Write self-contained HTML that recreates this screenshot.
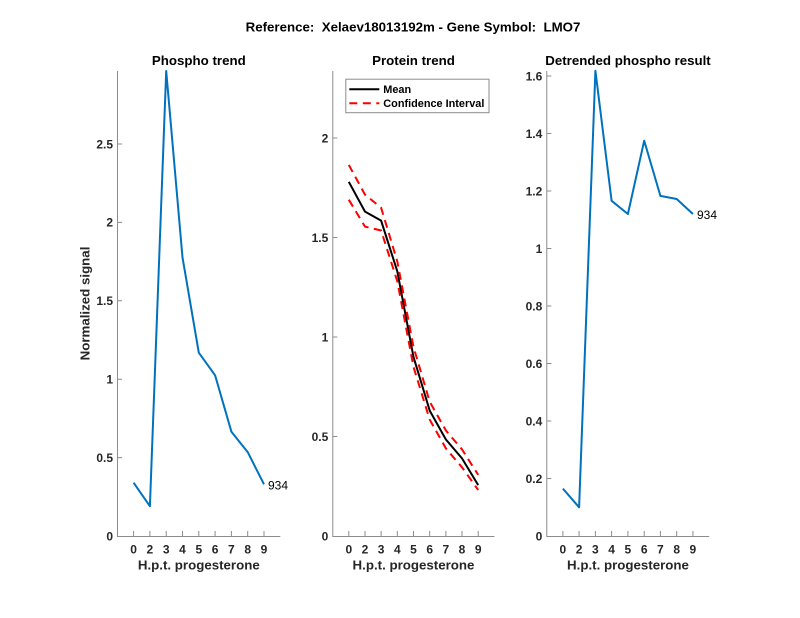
<!DOCTYPE html>
<html><head><meta charset="utf-8"><style>
html,body{margin:0;padding:0;background:#fff;}
svg{display:block;}
text{font-family:"Liberation Sans",Arial,sans-serif;white-space:pre;}
.t{font-size:13.3px;font-weight:bold;fill:#000;}
.tk{font-size:12px;font-weight:bold;fill:#262626;}
.lb{font-size:13.3px;font-weight:bold;fill:#262626;}
.lg{font-size:10.9px;font-weight:bold;fill:#000;}
.ax{stroke:#8c8c8c;stroke-width:1;fill:none;}
</style></head><body>
<svg width="800" height="618" viewBox="0 0 800 618" xmlns="http://www.w3.org/2000/svg">
<rect width="800" height="618" fill="#fff"/>
<text class="t" x="413" y="31.5" text-anchor="middle">Reference:  Xelaev18013192m - Gene Symbol:  LMO7</text>

<!-- LEFT PANEL -->
<text class="t" x="198.8" y="65" text-anchor="middle">Phospho trend</text>
<path class="ax" d="M117.5,71 V536.5 H280.3"/>
<path class="ax" d="M133.6,536 v-5 M149.9,536 v-5 M166.2,536 v-5 M182.5,536 v-5 M198.8,536 v-5 M215.1,536 v-5 M231.4,536 v-5 M247.7,536 v-5 M264,536 v-5"/>
<path class="ax" d="M117.5,457.6 h4.5 M117.5,379.2 h4.5 M117.5,300.8 h4.5 M117.5,222.4 h4.5 M117.5,144 h4.5"/>
<g class="tk" text-anchor="end">
<text x="113" y="540.3">0</text>
<text x="113" y="461.9">0.5</text>
<text x="113" y="383.5">1</text>
<text x="113" y="305.1">1.5</text>
<text x="113" y="226.7">2</text>
<text x="113" y="148.3">2.5</text>
</g>
<g class="tk" text-anchor="middle">
<text x="133.6" y="553.3">0</text><text x="149.9" y="553.3">2</text><text x="166.2" y="553.3">3</text><text x="182.5" y="553.3">4</text><text x="198.8" y="553.3">5</text><text x="215.1" y="553.3">6</text><text x="231.4" y="553.3">7</text><text x="247.7" y="553.3">8</text><text x="264" y="553.3">9</text>
</g>
<text class="lb" x="198.8" y="569.5" text-anchor="middle">H.p.t. progesterone</text>
<text class="lb" transform="translate(89.5,303.5) rotate(-90)" text-anchor="middle">Normalized signal</text>
<polyline fill="none" stroke="#0072BD" stroke-width="2" stroke-linejoin="round" points="133.6,482.7 149.9,506.2 166.2,71 182.5,257.4 198.8,352.7 215.1,375.3 231.4,431.7 247.7,452.1 264,484.3"/>
<text x="268" y="489.3" style="font-size:12px;fill:#000;">934</text>

<!-- MIDDLE PANEL -->
<text class="t" x="413.5" y="65" text-anchor="middle">Protein trend</text>
<path class="ax" d="M332.8,71 V536.5 H494.4"/>
<path class="ax" d="M348.8,536 v-5 M365,536 v-5 M381.1,536 v-5 M397.3,536 v-5 M413.5,536 v-5 M429.7,536 v-5 M445.9,536 v-5 M462,536 v-5 M478.2,536 v-5"/>
<path class="ax" d="M332.8,436.5 h4.5 M332.8,337 h4.5 M332.8,237.5 h4.5 M332.8,138 h4.5"/>
<g class="tk" text-anchor="end">
<text x="328.3" y="540.3">0</text>
<text x="328.3" y="440.8">0.5</text>
<text x="328.3" y="341.3">1</text>
<text x="328.3" y="241.8">1.5</text>
<text x="328.3" y="142.3">2</text>
</g>
<g class="tk" text-anchor="middle">
<text x="348.8" y="553.3">0</text><text x="365" y="553.3">2</text><text x="381.1" y="553.3">3</text><text x="397.3" y="553.3">4</text><text x="413.5" y="553.3">5</text><text x="429.7" y="553.3">6</text><text x="445.9" y="553.3">7</text><text x="462" y="553.3">8</text><text x="478.2" y="553.3">9</text>
</g>
<text class="lb" x="413.5" y="569.5" text-anchor="middle">H.p.t. progesterone</text>
<polyline fill="none" stroke="#000" stroke-width="2" stroke-linejoin="round" points="348.8,181.8 365,211.6 381.1,220.6 397.3,271.3 413.5,356.9 429.7,410.6 445.9,439.5 462,458.4 478.2,485.1"/>
<polyline fill="none" stroke="#ff0000" stroke-width="2" stroke-dasharray="8 5.5" points="348.8,164.9 365,194.7 381.1,207.7 397.3,261.4 413.5,346.9 429.7,401.7 445.9,430.5 462,449.4 478.2,474.9"/>
<polyline fill="none" stroke="#ff0000" stroke-width="2" stroke-dasharray="8 5.5" points="348.8,199.7 365,226.6 381.1,230.5 397.3,281.3 413.5,366.9 429.7,419.6 445.9,448.4 462,467.3 478.2,490"/>
<!-- legend -->
<rect x="345.8" y="79.2" width="143.2" height="33.5" fill="#fff" stroke="#8c8c8c" stroke-width="1"/>
<line x1="349.3" y1="89.3" x2="379.3" y2="89.3" stroke="#000" stroke-width="2"/>
<text class="lg" x="383.3" y="93.2">Mean</text>
<line x1="349.3" y1="103.3" x2="379.3" y2="103.3" stroke="#ff0000" stroke-width="2" stroke-dasharray="8 5.5"/>
<text class="lg" x="383.3" y="107.2">Confidence Interval</text>

<!-- RIGHT PANEL -->
<text class="t" x="628" y="65" text-anchor="middle">Detrended phospho result</text>
<path class="ax" d="M546.8,71 V536.5 H709.2"/>
<path class="ax" d="M562.9,536 v-5 M579.1,536 v-5 M595.4,536 v-5 M611.6,536 v-5 M627.9,536 v-5 M644.2,536 v-5 M660.4,536 v-5 M676.7,536 v-5 M692.9,536 v-5"/>
<path class="ax" d="M546.8,478.5 h4.5 M546.8,421 h4.5 M546.8,363.5 h4.5 M546.8,306 h4.5 M546.8,248.5 h4.5 M546.8,191 h4.5 M546.8,133.5 h4.5 M546.8,76 h4.5"/>
<g class="tk" text-anchor="end">
<text x="542.3" y="540.3">0</text>
<text x="542.3" y="482.8">0.2</text>
<text x="542.3" y="425.3">0.4</text>
<text x="542.3" y="367.8">0.6</text>
<text x="542.3" y="310.3">0.8</text>
<text x="542.3" y="252.8">1</text>
<text x="542.3" y="195.3">1.2</text>
<text x="542.3" y="137.8">1.4</text>
<text x="542.3" y="80.3">1.6</text>
</g>
<g class="tk" text-anchor="middle">
<text x="562.9" y="553.3">0</text><text x="579.1" y="553.3">2</text><text x="595.4" y="553.3">3</text><text x="611.6" y="553.3">4</text><text x="627.9" y="553.3">5</text><text x="644.2" y="553.3">6</text><text x="660.4" y="553.3">7</text><text x="676.7" y="553.3">8</text><text x="692.9" y="553.3">9</text>
</g>
<text class="lb" x="628" y="569.5" text-anchor="middle">H.p.t. progesterone</text>
<polyline fill="none" stroke="#0072BD" stroke-width="2" stroke-linejoin="round" points="562.9,488.6 579.1,507.3 595.4,70.8 611.6,200.8 627.9,214 644.2,140.7 660.4,195.9 676.7,199 692.9,214"/>
<text x="697" y="219" style="font-size:12px;fill:#000;">934</text>
</svg>
</body></html>
